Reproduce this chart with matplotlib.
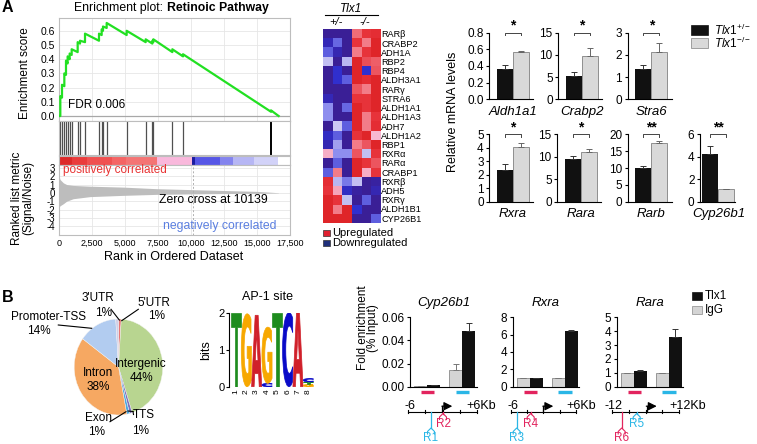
import numpy as np
import matplotlib
matplotlib.use('Agg')
import matplotlib.pyplot as plt
from matplotlib.colors import LinearSegmentedColormap
from matplotlib.textpath import TextPath
from matplotlib.patches import PathPatch, Rectangle
from matplotlib.font_manager import FontProperties
from matplotlib.transforms import Affine2D, blended_transform_factory

plt.rcParams['font.family'] = ['Liberation Sans', 'DejaVu Sans']
plt.rcParams['mathtext.fontset'] = 'custom'
plt.rcParams['mathtext.rm'] = 'Liberation Sans'
plt.rcParams['mathtext.it'] = 'Liberation Sans:italic'

# ---------------- data ----------------
# GSEA running enrichment score
hit_ranks = [100, 227, 404, 530, 656, 808, 960, 1414, 1591, 1970, 3030, 3232, 3333, 3611,
             5126, 6566, 7070, 7146, 8586, 9394, 16060]
es_before = [0.00, 0.13, 0.21, 0.29, 0.37, 0.40, 0.43, 0.45, 0.51, 0.52, 0.53, 0.57, 0.60, 0.62,
             0.57, 0.52, 0.51, 0.52, 0.45, 0.42, 0.03]
es_after = [0.14, 0.22, 0.30, 0.39, 0.42, 0.44, 0.47, 0.52, 0.53, 0.58, 0.58, 0.61, 0.63, 0.655,
            0.60, 0.54, 0.53, 0.54, 0.47, 0.435, 0.04]
n_genes = 16640
zero_cross = 10139

# ranked list metric envelope
met_rank = [0, 80, 330, 580, 1080, 2350, 4850, 7400, 11170, 14960, 16620]
met_upper = [2.0, 1.6, 1.2, 1.0, 0.89, 0.8, 0.69, 0.5, 0.34, 0.18, 0.02]
met_lower = [-1.7, -1.55, -1.3, -1.0, -0.7, -0.45, -0.3, -0.18, -0.1, -0.05, -0.01]

# colour bar segments along ranked list
seg_edges = [0, 1000, 2100, 4000, 5100, 7400, 10050, 10300, 12200, 13200, 14800, 16620]
seg_colors = ['#dd2a2a', '#ea3c3c', '#f05050', '#f46464', '#f47474', '#f9b8dc',
              '#1c1ca0', '#5656e6', '#8484ee', '#b6b6f4', '#d2d2f8']

# heatmap
hm_genes = ['RARβ', 'CRABP2', 'ADH1A', 'RBP2', 'RBP4', 'ALDH3A1', 'RARγ', 'STRA6', 'ALDH1A1',
            'ALDH1A3', 'ADH7', 'ALDH1A2', 'RBP1', 'RXRα', 'RARα', 'CRABP1', 'RXRβ', 'ADH5',
            'RXRγ', 'ALDH1B1', 'CYP26B1']
hm_values = [
    [-3, -3, -3, 1.2, 2, 2.2],
    [-2.4, -1.4, -3, 2, 1, 2.5],
    [-1.5, -2.5, -3, 1, 2, 2.5],
    [-0.5, -3, -0.6, 2.5, 1.6, 1.4],
    [-3, -2, -3, 2.5, -2, 1.5],
    [-3, -2, -1.5, 2.5, 2.2, 2.5],
    [-3, -3, -3, 1.5, 1, 2.5],
    [-2.4, -3, -3, 2, 2, 2.5],
    [-1, -3, -1.4, 2.5, 2, 2.5],
    [-1, -3, -3, 2.5, 1, 2],
    [-3, -0.4, -1.5, 2.5, 1, 2.2],
    [-2.2, -1.5, -3, 2, 2.5, 0.4],
    [-2.5, -0.8, -3, 1, 1.5, 2.5],
    [0.5, -1, -1, 1.5, -0.5, 2],
    [-3, -1.5, -3, 2.5, 2, 1.5],
    [-1.5, 1, -3, 2.5, 0.5, 2],
    [2.2, -0.6, -1.2, -0.5, -3, -2.8],
    [2, 0.6, -2.2, -2.8, -3, -2.5],
    [2.5, 2, -0.5, -3, -1.5, -3],
    [2.5, 1, 2.5, -2, -3, -3],
    [2.5, 2.5, 2.5, -3, -3, -1.5],
]

# qPCR
mrna_genes = ['Aldh1a1', 'Crabp2', 'Stra6', 'Rxra', 'Rara', 'Rarb', 'Cyp26b1']
mrna_het = [0.365, 5.2, 1.36, 2.35, 9.6, 10.0, 4.3]
mrna_het_err = [0.045, 0.9, 0.19, 0.42, 0.7, 0.5, 0.7]
mrna_ko = [0.565, 9.7, 2.12, 4.1, 11.0, 17.5, 1.12]
mrna_ko_err = [0.01, 1.8, 0.42, 0.3, 0.8, 0.5, 0.02]
mrna_sig = ['*', '*', '*', '*', '*', '**', '**']
mrna_yticks = [[0, 0.2, 0.4, 0.6, 0.8], [0, 5, 10, 15], [0, 1, 2, 3], [0, 1, 2, 3, 4, 5],
               [0, 5, 10, 15], [0, 5, 10, 15, 20], [0, 2, 4, 6]]
mrna_yticklabels = [['0.0', '0.2', '0.4', '0.6', '0.8'], None, None, None, None, None, None]

# pie
pie_labels = ["5'UTR", 'Intergenic', 'TTS', 'Exon', 'Intron', 'Promoter-TSS', "3'UTR"]
pie_values = [1, 44, 1, 1, 38, 14, 1]
pie_colors = ['#e87878', '#b8d590', '#8070b8', '#4aa8e0', '#f6a862', '#b2ccf0', '#cfcfe8']

# motif logo (letter, bits) from bottom to top per position
logo_cols = [
    [('T', 2.0)],
    [('G', 1.97)],
    [('A', 1.93)],
    [('C', 0.09), ('G', 1.52)],
    [('T', 2.0)],
    [('C', 2.0)],
    [('A', 2.0)],
    [('G', 0.06), ('T', 0.07), ('C', 0.09)],
]
logo_colors = {'T': '#1e8c1e', 'G': '#f7a800', 'A': '#d0202a', 'C': '#0a0ac8'}

# ChIP
chip_genes = ['Cyp26b1', 'Rxra', 'Rara']
chip_igg = [[0.0005, 0.0145], [1.0, 1.0], [1.0, 1.0]]
chip_igg_err = [[0.0, 0.0049], [0.0, 0.0], [0.0, 0.0]]
chip_tlx = [[0.0015, 0.0485], [0.95, 6.45], [1.1, 3.55]]
chip_tlx_err = [[0.0, 0.007], [0.05, 0.12], [0.07, 0.6]]
chip_yticks = [[0, 0.02, 0.04, 0.06], [0, 2, 4, 6, 8], [0, 1, 2, 3, 4, 5]]
chip_yticklabels = [['0.00', '0.02', '0.04', '0.06'], None, None]
chip_span = [('-6', '+6Kb'), ('-6', '+6Kb'), ('-12', '+12Kb')]
chip_regions = [[('R1', 'cyan', 'long'), ('R2', 'pink', 'short')],
                [('R3', 'cyan', 'long'), ('R4', 'pink', 'short')],
                [('R6', 'pink', 'long'), ('R5', 'cyan', 'short')]]

PINK = '#e2245e'
CYAN = '#2ab6e6'

# ---------------- figure helpers ----------------
W, H = 757, 444
fig = plt.figure(figsize=(W / 100, H / 100), dpi=100)


def px_axes(x0, y0, x1, y1):
    return fig.add_axes([x0 / W, 1 - y1 / H, (x1 - x0) / W, (y1 - y0) / H])


def ftext(x, y, s, **kw):
    kw.setdefault('ha', 'center')
    kw.setdefault('va', 'center')
    fig.text(x / W, 1 - y / H, s, **kw)


ov = fig.add_axes([0, 0, 1, 1], zorder=10)
ov.set_xlim(0, W)
ov.set_ylim(H, 0)
ov.axis('off')
ov.patch.set_alpha(0)

ftext(2, 8, 'A', ha='left', fontsize=11.5, fontweight='bold')
ftext(2, 297, 'B', ha='left', fontsize=11.5, fontweight='bold')

# ---------------- GSEA ----------------
GX0, GX1 = 59, 290
border = '#bdbdbd'
xt = np.arange(0, 17501, 2500)

es_x = [0]
es_y = [0]
for r, b, a in zip(hit_ranks, es_before, es_after):
    es_x += [r, r]
    es_y += [b, a]
es_x.append(n_genes)
es_y.append(0)

ax_es = px_axes(GX0, 18, GX1, 121)
ax_es.plot(es_x, es_y, color='#22e022', lw=1.6, zorder=3)
ax_es.axhline(0, color='#a8a8a8', lw=0.9)
ax_es.set_xlim(0, 17500)
ax_es.set_ylim(-0.035, 0.69)
ax_es.set_yticks(np.arange(0, 0.61, 0.1))
ax_es.set_yticklabels(['%.1f' % v for v in np.arange(0, 0.61, 0.1)], fontsize=7.5)
ax_es.set_xticks(xt)
ax_es.set_xticklabels([])
ax_es.tick_params(length=0, pad=3)
ax_es.grid(True, color='#e6e6e6', lw=0.6)
ax_es.set_axisbelow(True)
for s in ax_es.spines.values():
    s.set_color(border)
ax_es.text(700, 0.08, 'FDR 0.006', fontsize=8.5, va='center')
ftext(25, 73, 'Enrichment score', rotation=90, fontsize=8.5)
ftext(166, 8.5, 'Enrichment plot: ', ha='right', fontsize=8.8)
ftext(167, 8.5, 'Retinoic Pathway', ha='left', fontsize=8.8, fontweight='bold')

ax_hit = px_axes(GX0, 121, GX1, 155.5)
ax_hit.vlines(hit_ranks[:-1], 0, 1, color='#505050', lw=0.9)
ax_hit.vlines(hit_ranks[-1:], 0, 1, color='#000000', lw=1.4)
ax_hit.set_xlim(0, 17500)
ax_hit.set_ylim(0, 1)
ax_hit.set_xticks([])
ax_hit.set_yticks([])
for s in ax_hit.spines.values():
    s.set_color(border)

ax_cb = px_axes(GX0, 155.5, GX1, 164.5)
for i, c in enumerate(seg_colors):
    ax_cb.axvspan(seg_edges[i], seg_edges[i + 1], color=c, lw=0)
ax_cb.set_xlim(0, 17500)
ax_cb.set_ylim(0, 1)
ax_cb.set_xticks([])
ax_cb.set_yticks([])
for s in ax_cb.spines.values():
    s.set_color(border)

ax_met = px_axes(GX0, 164.5, GX1, 235)
ax_met.fill_between(met_rank, met_lower, met_upper, color='#bdbdbd', lw=0)
ax_met.axvline(zero_cross, color='#b0b0b0', lw=0.7, ls=(0, (2, 2)))
ax_met.set_xlim(0, 17500)
ax_met.set_ylim(-5.05, 3.4)
ax_met.set_yticks(range(3, -5, -1))
ax_met.set_yticklabels([str(v) for v in range(3, -5, -1)], fontsize=7)
ax_met.set_xticks(xt)
ax_met.set_xticklabels(['{:,}'.format(v) for v in xt], fontsize=6.5)
ax_met.tick_params(length=0, pad=3)
ax_met.grid(True, color='#e6e6e6', lw=0.6)
ax_met.set_axisbelow(True)
for s in ax_met.spines.values():
    s.set_color(border)
ax_met.text(300, 2.75, 'positively correlated', color='#e83232', fontsize=8.5, va='center')
ax_met.text(11667, -0.8, 'Zero cross at 10139', fontsize=8.8, ha='center', va='center')
ax_met.text(16440, -3.95, 'negatively correlated', color='#5a7ee0', fontsize=8.8,
            ha='right', va='center')
ftext(17, 198, 'Ranked list metric', rotation=90, fontsize=8.5)
ftext(28, 198, '(Signal/Noise)', rotation=90, fontsize=8.5)
ftext(174, 257, 'Rank in Ordered Dataset', fontsize=9)

# ---------------- heatmap ----------------
hm_cmap = LinearSegmentedColormap.from_list('gsea', [
    (0.0, '#3a1f96'), (0.17, '#3030d0'), (0.33, '#8c8cee'), (0.45, '#d8d4f4'),
    (0.55, '#f8c4e0'), (0.67, '#f27a86'), (0.83, '#e8343c'), (1.0, '#d81818')])
ax_hm = px_axes(322.7, 29.3, 380, 222.7)
ax_hm.imshow(np.array(hm_values), cmap=hm_cmap, vmin=-3, vmax=3, aspect='auto',
             interpolation='nearest')
ax_hm.yaxis.tick_right()
ax_hm.set_yticks(range(len(hm_genes)))
ax_hm.set_yticklabels(hm_genes, fontsize=6.6)
ax_hm.set_xticks([])
ax_hm.tick_params(length=0, pad=1)
for s in ax_hm.spines.values():
    s.set_visible(False)
ftext(351, 9, 'Tlx1', fontsize=8.5, style='italic')
ov.plot([325, 378], [15.5, 15.5], color='k', lw=0.8)
ftext(336, 22, '+/-', fontsize=8, style='italic')
ftext(365, 22, '-/-', fontsize=8, style='italic')
ov.add_patch(Rectangle((323, 229.5), 6.5, 6.5, fc='#e02030', ec='#333333', lw=0.5))
ov.add_patch(Rectangle((323, 239.5), 6.5, 6.5, fc='#1f2f7a', ec='#333333', lw=0.5))
ftext(332, 233, 'Upregulated', ha='left', fontsize=8)
ftext(332, 243, 'Downregulated', ha='left', fontsize=8)

# ---------------- qPCR bars ----------------
mrna_boxes = [(489.3, 32.7, 533.3, 99.3, -0.96), (558.3, 32.7, 602.3, 99.3, -0.96),
              (627.7, 32.7, 671.7, 99.3, -0.96),
              (489.3, 134.5, 533.3, 201.7, -0.96), (557.3, 134.5, 601.3, 201.7, -0.96),
              (627.7, 134.5, 671.7, 201.7, -0.96), (700, 134.5, 735.3, 201.7, -0.64)]
for i, g in enumerate(mrna_genes):
    x0, y0, x1, y1, xl = mrna_boxes[i]
    ax = px_axes(x0, y0, x1, y1)
    ax.bar(0, mrna_het[i], width=1, color='#111111', zorder=2)
    ax.bar(1, mrna_ko[i], width=1, color='#d9d9d9', edgecolor='#808080', lw=0.6, zorder=2)
    ax.errorbar([0], [mrna_het[i]], yerr=[[0], [mrna_het_err[i]]], fmt='none',
                ecolor='#333333', elinewidth=0.7, capsize=2, capthick=0.7, zorder=3)
    ax.errorbar([1], [mrna_ko[i]], yerr=[[0], [mrna_ko_err[i]]], fmt='none',
                ecolor='#666666', elinewidth=0.7, capsize=2, capthick=0.7, zorder=3)
    ax.set_xlim(xl, xl + (x1 - x0) / 16.1)
    ax.set_ylim(0, mrna_yticks[i][-1])
    ax.set_yticks(mrna_yticks[i])
    if mrna_yticklabels[i]:
        ax.set_yticklabels(mrna_yticklabels[i])
    ax.tick_params(axis='y', labelsize=8.5, length=2.5, width=0.8, pad=1.5)
    ax.set_xticks([])
    ax.spines['top'].set_visible(False)
    ax.spines['right'].set_visible(False)
    for s in ('left', 'bottom'):
        ax.spines[s].set_linewidth(0.8)
    tr = blended_transform_factory(ax.transData, ax.transAxes)
    ax.plot([0, 0, 1, 1], [0.97, 1.0, 1.0, 0.97], color='#444444', lw=0.7,
            transform=tr, clip_on=False)
    ax.text(0.5, 1.0, mrna_sig[i], transform=tr, ha='center', va='bottom',
            fontsize=10, fontweight='bold')
    ax.annotate(g, xy=(0.5, 0), xycoords=tr, xytext=(0, -9.2), textcoords='offset points',
                ha='center', va='center', fontsize=9.5, style='italic')

ftext(453, 112, 'Relative mRNA levels', rotation=90, fontsize=9)
ov.add_patch(Rectangle((691, 25), 16.7, 10, fc='#111111', ec='#111111', lw=0.5))
ov.add_patch(Rectangle((691, 38.3), 16.7, 10, fc='#d9d9d9', ec='#808080', lw=0.5))
ftext(714, 30, r'$\mathit{Tlx1}^{+/-}$', ha='left', fontsize=8.5)
ftext(714, 43.5, r'$\mathit{Tlx1}^{-/-}$', ha='left', fontsize=8.5)

# ---------------- pie ----------------
ax_pie = px_axes(74.2, 319, 162.8, 415)
ax_pie.pie(pie_values, colors=pie_colors, startangle=90, counterclock=False,
           wedgeprops=dict(lw=0.3, ec='#f4f4f4'))
ax_pie.set_aspect('auto')
ax_pie.set_xlim(-1, 1)
ax_pie.set_ylim(-1, 1)
pk = dict(fontsize=8.5)
ftext(141, 364, 'Intergenic', **pk)
ftext(141, 378, '44%', **pk)
ftext(98, 373, 'Intron', **pk)
ftext(98, 387, '38%', **pk)
ftext(48, 316.5, 'Promoter-TSS', **pk)
ftext(39, 331, '14%', **pk)
ftext(98, 298, "3'UTR", **pk)
ftext(104, 313, '1%', **pk)
ftext(154, 303, "5'UTR", **pk)
ftext(157, 316, '1%', **pk)
ftext(98, 418, 'Exon', **pk)
ftext(97, 432, '1%', **pk)
ftext(144, 415, 'TTS', **pk)
ftext(141, 431, '1%', **pk)
lk = dict(color='k', lw=0.8)
ov.plot([58.3, 91.7], [325, 328.3], **lk)
ov.plot([111, 119.3], [309.3, 320], **lk)
ov.plot([121.7, 138.3], [320.7, 309.3], **lk)
ov.plot([110, 126], [421.7, 411.7], **lk)
ov.plot([128, 133], [411, 411.5], **lk)
ov.plot([133, 133.5], [411.5, 414.5], **lk)

# ---------------- logo ----------------
logo_font = FontProperties(family='DejaVu Sans', weight='bold')


def draw_letter(ax, ch, x, y0, h, color, w=0.98):
    tp = TextPath((0, 0), ch, size=1, prop=logo_font)
    bb = tp.get_extents()
    t = Affine2D().translate(-bb.x0, -bb.y0).scale(w / bb.width, h / bb.height)
    t = t.translate(x - w / 2, y0)
    ax.add_patch(PathPatch(t.transform_path(tp), fc=color, ec=color, lw=0.5))


ax_logo = px_axes(229.3, 312.7, 314.5, 386.7)
for i, col in enumerate(logo_cols):
    base = 0
    for ch, h in col:
        draw_letter(ax_logo, ch, i + 1, base, h, logo_colors[ch])
        base += h
ax_logo.set_xlim(0.35, 8.6)
ax_logo.set_ylim(0, 2)
ax_logo.set_yticks([0, 1, 2])
ax_logo.tick_params(axis='y', labelsize=8, length=2.5, width=0.8, pad=1)
ax_logo.set_xticks(range(1, 9))
ax_logo.set_xticklabels([str(v) for v in range(1, 9)], rotation=90, fontsize=6)
ax_logo.tick_params(axis='x', length=0, pad=2)
for s in ('top', 'right', 'bottom'):
    ax_logo.spines[s].set_visible(False)
ax_logo.spines['left'].set_linewidth(0.8)
ftext(268, 297, 'AP-1 site', fontsize=9)
ftext(206, 350, 'bits', rotation=90, fontsize=9)

# ---------------- ChIP ----------------
chip_left = [410, 512.7, 616.7]
chip_diag = [(408.3, 476.7, 442.3, 431, 443), (510.7, 576, 543.3, 516.7, 530.7),
             (611.7, 679.3, 646.7, 621.7, 636.7)]
for i, g in enumerate(chip_genes):
    x0 = chip_left[i]
    ax = px_axes(x0, 317.3, x0 + 66.7, 386.7)
    ax.bar([0.8, 3.45], chip_igg[i], width=1, color='#d4d4d4', edgecolor='#8a8a8a',
           lw=0.6, zorder=2)
    ax.bar([1.8, 4.45], chip_tlx[i], width=1, color='#111111', zorder=2)
    ax.errorbar([0.8, 3.45], chip_igg[i], yerr=[[0, 0], chip_igg_err[i]], fmt='none',
                ecolor='#777777', elinewidth=0.7, capsize=2, capthick=0.7, zorder=3)
    ax.errorbar([1.8, 4.45], chip_tlx[i], yerr=[[0, 0], chip_tlx_err[i]], fmt='none',
                ecolor='#333333', elinewidth=0.7, capsize=2, capthick=0.7, zorder=3)
    ax.set_xlim(0, 5.05)
    ax.set_ylim(0, chip_yticks[i][-1])
    ax.set_yticks(chip_yticks[i])
    if chip_yticklabels[i]:
        ax.set_yticklabels(chip_yticklabels[i])
    ax.tick_params(axis='y', labelsize=8.5, length=2.5, width=0.8, pad=1.5)
    ax.set_xticks([])
    ax.spines['top'].set_visible(False)
    ax.spines['right'].set_visible(False)
    for s in ('left', 'bottom'):
        ax.spines[s].set_linewidth(0.8)
    ax.set_title(g, fontsize=9.5, style='italic', pad=8)
    tr = blended_transform_factory(ax.transData, ax.transAxes)
    ax.plot([0.85, 1.85], [-0.072, -0.072], color=PINK, lw=2.4, transform=tr,
            clip_on=False, solid_capstyle='butt')
    ax.plot([3.45, 4.5], [-0.072, -0.072], color=CYAN, lw=2.4, transform=tr,
            clip_on=False, solid_capstyle='butt')

    # gene schematic
    d0, d1, tss, rlong, rshort = chip_diag[i]
    ly = 411.7
    ov.plot([d0, d1], [ly, ly], color='k', lw=0.8)
    for tx in np.linspace(d0, d1, 5):
        ov.plot([tx, tx], [ly - 1.5, ly + 1.5], color='k', lw=0.8)
    ov.plot([tss, tss], [ly, ly - 5.5], color='k', lw=0.9)
    ov.annotate('', xy=(tss + 10, ly - 5.5), xytext=(tss - 0.4, ly - 5.5),
                arrowprops=dict(arrowstyle='-|>,head_length=0.5,head_width=0.25',
                                color='k', lw=0.9, shrinkA=0, shrinkB=0))
    lo, hi = chip_span[i]
    ftext(d0 + 2, 405.5, lo, fontsize=9)
    ftext(d1 - 10, 405.5, hi, ha='left', fontsize=9)
    for name, col, kind in chip_regions[i]:
        c = PINK if col == 'pink' else CYAN
        rx = rlong if kind == 'long' else rshort
        apex = 428 if kind == 'long' else 413.5
        ov.plot([rx, rx], [ly, apex], color=c, lw=0.9)
        ov.plot([rx - 3.5, rx - 3.5, rx, rx + 3.5, rx + 3.5],
                [apex + 6, apex + 3.5, apex, apex + 3.5, apex + 6], color=c, lw=0.8)
        ftext(rx, apex + 10, name, fontsize=8.5, color=c)

ftext(363, 328, 'Fold enrichment', rotation=90, fontsize=8.5)
ftext(373, 328, '(% Input)', rotation=90, fontsize=8.5)
ov.add_patch(Rectangle((691.7, 291.7), 10, 8.3, fc='#111111', ec='#111111', lw=0.5))
ov.add_patch(Rectangle((691.7, 305.7), 10, 8.3, fc='#d4d4d4', ec='#8a8a8a', lw=0.5))
ftext(705, 296, 'Tlx1', ha='left', fontsize=8.5)
ftext(705, 310, 'IgG', ha='left', fontsize=8.5)

fig.savefig('out.png', dpi=100)
